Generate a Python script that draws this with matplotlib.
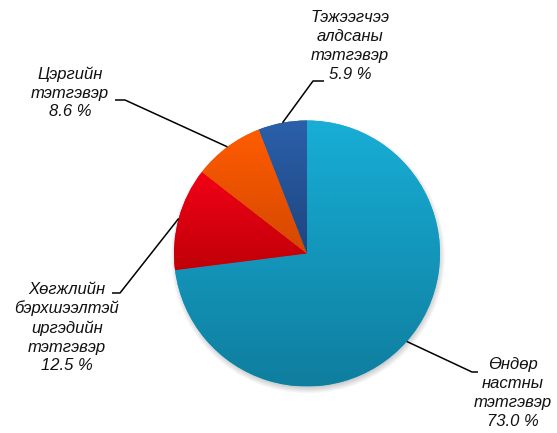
import numpy as np
import matplotlib

matplotlib.use("Agg")
import matplotlib.pyplot as plt
from matplotlib.colors import LinearSegmentedColormap
from matplotlib.patches import Circle

# data
labels = [
    "Өндөр\nнастны\nтэтгэвэр",
    "Хөгжлийн\nбэрхшээлтэй\nиргэдийн\nтэтгэвэр",
    "Цэргийн\nтэтгэвэр",
    "Тэжээгчээ\nалдсаны\nтэтгэвэр",
]
shares = [73.0, 12.5, 8.6, 5.9]
# (top colour, bottom colour) gradient per slice
grad_colors = [
    ("#18aed6", "#0f7e9f"),
    ("#f20016", "#bf0008"),
    ("#ff5c00", "#d44800"),
    ("#2b60aa", "#1e457f"),
]

W, H = 557, 433
cx, cy, R = 307, H - 253.5, 133

# label layout in pixel coords (x, y from top): text centre, elbow, line end
text_pos = [(513, 393), (67, 327.5), (70, 93), (350, 46)]
elbow_pos = [((472, 372), (478, 372)), ((120, 293), (112, 293)),
             ((125, 100), (115, 100)), ((313, 81), (324, 81))]

plt.rcParams["font.family"] = ["Liberation Sans", "DejaVu Sans"]

fig = plt.figure(figsize=(W / 100, H / 100), dpi=100)
ax = fig.add_axes([0, 0, 1, 1])

# soft shadow under the pie
for k in range(10):
    ax.add_patch(Circle((cx + 1, cy - 3), R + 4 - k * 0.8, color="#000000",
                        alpha=0.025, lw=0, zorder=0))

wedges, _ = ax.pie(shares, colors=[c[0] for c in grad_colors], startangle=90,
                   counterclock=False, center=(cx, cy), radius=R,
                   wedgeprops=dict(linewidth=0), frame=False)

grad = np.linspace(0, 1, 256).reshape(-1, 1)
for w, (top, bot) in zip(wedges, grad_colors):
    ext = w.get_path().get_extents()
    cmap = LinearSegmentedColormap.from_list("g", [top, bot])
    im = ax.imshow(grad, cmap=cmap, aspect="auto", origin="upper",
                   extent=[ext.x0, ext.x1, ext.y0, ext.y1], zorder=2,
                   interpolation="bilinear")
    im.set_clip_path(w)

for w, lab, val, (tx, ty), ((ex, ey), (hx, hy)) in zip(
        wedges, labels, shares, text_pos, elbow_pos):
    mid = np.deg2rad((w.theta1 + w.theta2) / 2)
    x0, y0 = cx + R * np.cos(mid), cy + R * np.sin(mid)
    ax.plot([x0, ex, hx], [y0, H - ey, H - hy], color="black", lw=1.1,
            zorder=3, solid_capstyle="butt")
    ax.text(tx, H - ty, f"{lab}\n{val:.1f} %", ha="center", va="center",
            fontsize=12, style="italic", color="#111111", linespacing=1.31)

ax.set_xlim(0, W)
ax.set_ylim(0, H)
ax.set_aspect("equal")
ax.axis("off")

fig.savefig("out.png", dpi=100)
